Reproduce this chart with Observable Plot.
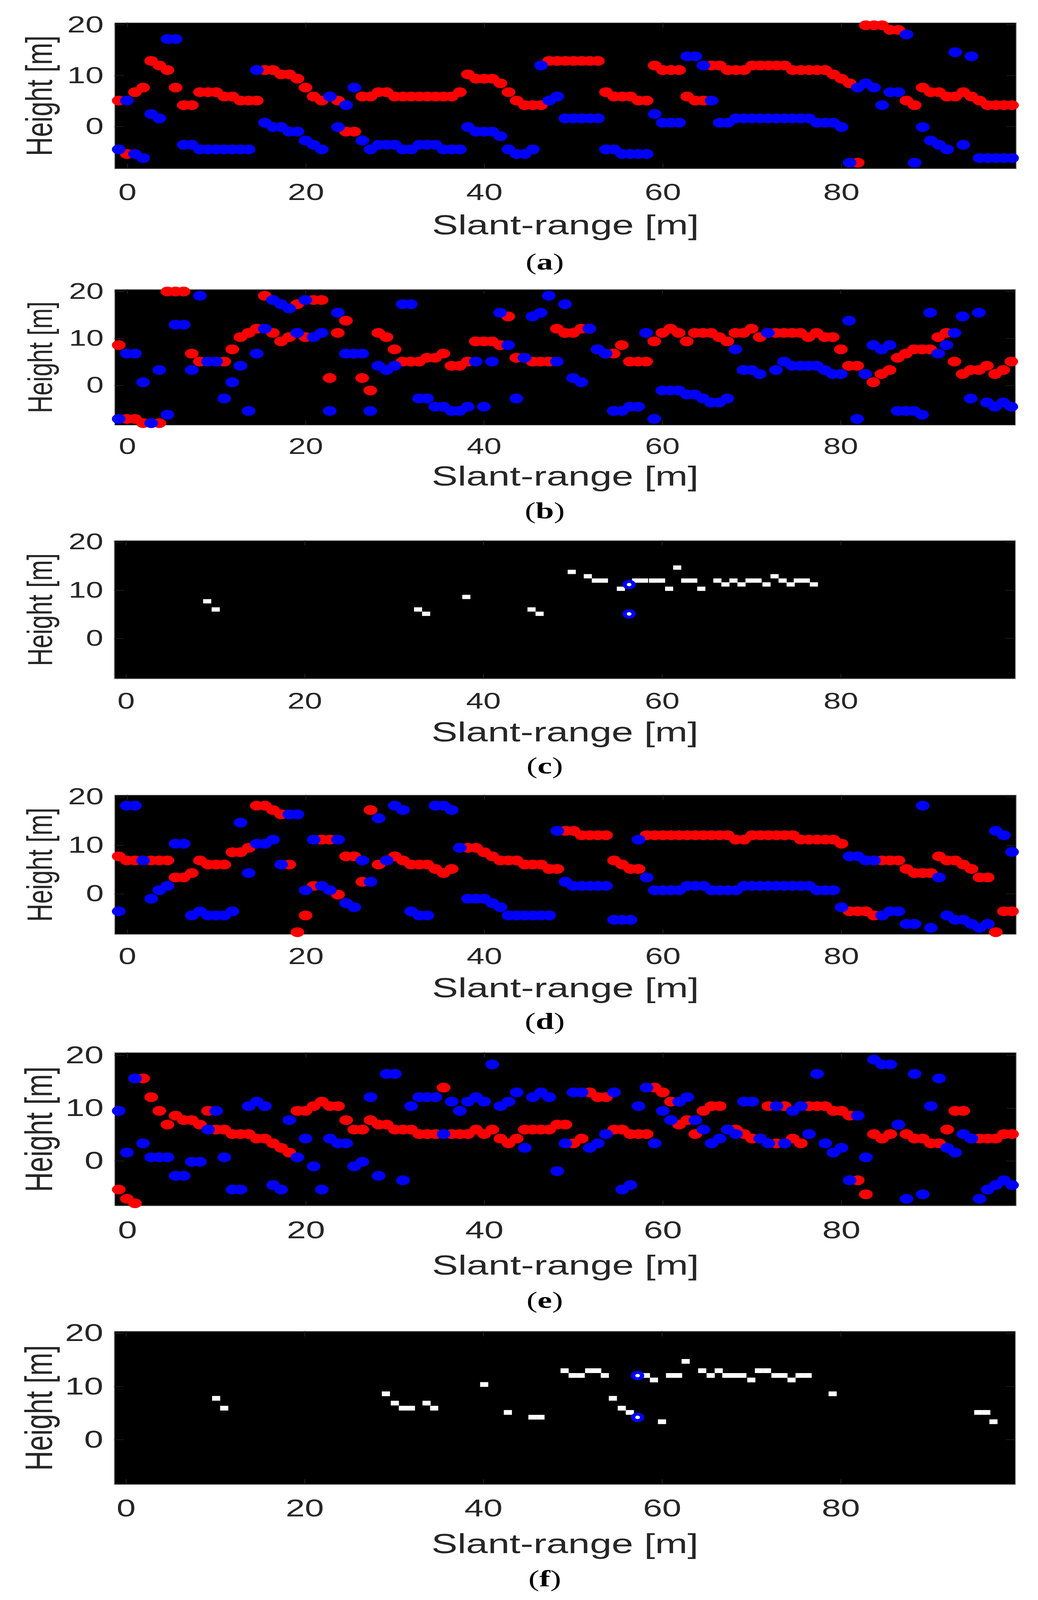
<!DOCTYPE html>
<html><head><meta charset="utf-8">
<style>
html,body{margin:0;padding:0;background:#fff}
body{width:2658px;overflow:hidden}
#page{width:2658px;height:5747px;transform-origin:0 0}
.panel{position:relative;width:2658px}
.panel svg{max-width:none !important;display:block}
.cap{position:absolute;left:1395px;transform:translate(-50%,-50%);font:84px "Liberation Serif",serif;color:#000;line-height:1;z-index:2}
.cap b{font-weight:bold}
</style>
<script src="https://cdn.jsdelivr.net/npm/d3@7"></script>
<script src="https://cdn.jsdelivr.net/npm/@observablehq/plot@0.6"></script>
</head><body><div id="page"></div>
<script>
const xTicks=[0,20,40,60,80];
const yTicks=[0,10,20];
const xLabel="Slant-range [m]";
const yLabel="Height [m]";
const slantRange=[-0.98,-0.07,0.84,1.75,2.66,3.57,4.48,5.39,6.3,7.21,8.12,9.03,9.94,10.85,11.76,12.67,13.58,14.49,15.4,16.31,17.22,18.13,19.04,19.95,20.86,21.77,22.68,23.59,24.5,25.41,26.32,27.23,28.14,29.05,29.96,30.87,31.78,32.69,33.6,34.51,35.42,36.33,37.24,38.15,39.06,39.97,40.88,41.79,42.7,43.61,44.52,45.43,46.34,47.25,48.16,49.07,49.98,50.89,51.8,52.71,53.62,54.53,55.44,56.35,57.26,58.17,59.08,59.99,60.9,61.81,62.72,63.63,64.54,65.45,66.36,67.27,68.18,69.09,70,70.91,71.82,72.73,73.64,74.55,75.46,76.37,77.28,78.19,79.1,80.01,80.92,81.83,82.74,83.65,84.56,85.47,86.38,87.29,88.2,89.11,90.02,90.93,91.84,92.75,93.66,94.57,95.48,96.39,97.3,98.21,99.12];

const redA=[5.1,-5.4,6.75,7.65,12.9,12,11.1,7.65,4.2,4.2,6.75,6.75,6.75,5.9,5.9,5.1,5.1,5.1,11.1,11.1,10.25,10.25,9.4,7.65,5.9,5.1,5.9,5.1,-1,-1,5.9,5.9,6.75,6.75,5.9,5.9,5.9,5.9,5.9,5.9,5.9,5.9,6.75,10.25,9.4,9.4,9.4,8.5,6.75,5.1,4.2,4.2,4.2,12.9,12.9,12.9,12.9,12.9,12.9,12.9,6.75,5.9,5.9,5.9,5.1,5.1,12,11.1,11.1,11.1,5.9,5.1,5.1,12,12,11.1,11.1,11.1,12,12,12,12,12,11.1,11.1,11.1,11.1,11.1,10.25,9.4,8.5,-7.1,19.9,19.9,19.9,19,19,5.1,4.2,7.65,6.75,6.75,5.9,5.9,6.75,5.9,5.1,4.2,4.2,4.2,4.2];
const blueA=[-4.5,5.1,-5.4,-6.2,2.45,1.6,17.2,17.2,-3.6,-3.6,-4.5,-4.5,-4.5,-4.5,-4.5,-4.5,-4.5,11.1,0.75,-0.1,-0.1,-1,-1,-2.75,-3.6,-4.5,5.9,-0.1,4.2,7.65,-2.75,-4.5,-3.6,-3.6,-3.6,-4.5,-4.5,-3.6,-3.6,-3.6,-4.5,-4.5,-4.5,-0.1,-1,-1,-1,-1.9,-4.5,-5.4,-5.4,-4.5,12,5.1,5.9,1.6,1.6,1.6,1.6,1.6,-4.5,-4.5,-5.4,-5.4,-5.4,-5.4,2.45,0.75,0.75,0.75,13.8,13.8,12,5.1,0.75,0.75,1.6,1.6,1.6,1.6,1.6,1.6,1.6,1.6,1.6,1.6,0.75,0.75,0.75,-0.1,-7.1,7.65,8.5,7.65,4.2,6.75,6.75,18.1,-7.1,-0.1,-2.75,-3.6,-4.5,14.6,-3.6,13.8,-6.2,-6.2,-6.2,-6.2,-6.2];

const redB=[8.6,-7.1,-7.1,-8,-8,-8,20,20,20,6.8,5.1,5.1,5.1,5.1,7.7,10.3,11.2,12.1,19.1,11.2,9.4,10.3,17.3,10.3,18.2,18.2,1.6,11.2,13.8,6.8,1.6,-1.05,11.2,10.3,7.7,5.1,5.1,5.1,5.9,5.9,6.8,4.2,4.2,5.1,9.4,9.4,9.4,8.6,14.7,5.9,5.9,5.1,5.1,5.1,12.1,11.2,11.2,12.1,12.1,7.7,6.8,6.8,8.6,5.1,5.1,5.1,9.4,11.2,12.1,11.2,9.4,11.2,11.2,11.2,10.3,9.4,11.2,11.2,12.1,10.3,11.2,11.2,11.2,11.2,11.2,10.3,11.2,10.3,10.3,7.7,4.2,4.2,2.45,0.7,2.45,3.3,5.9,6.8,7.7,7.7,7.7,10.3,11.2,5.1,2.45,3.3,3.3,4.2,2.45,3.3,5.1];
const blueB=[-7.1,6.8,6.8,0.7,-8,3.3,-6.2,12.95,12.95,3.3,19.1,5.1,5.1,-2.75,0.7,4.2,-5.4,6.8,12.1,18.2,17.3,16.4,11.2,18.2,10.3,11.2,-5.4,15.5,6.8,6.8,6.8,-5.4,4.2,3.3,4.2,17.3,17.3,-2.75,-2.75,-4.5,-4.5,-5.4,-5.4,-4.5,5.1,-4.5,5.1,15.5,8.6,-2.75,5.9,14.7,15.5,19.1,5.1,17.3,1.6,0.7,12.1,7.7,6.8,-5.4,-5.4,-4.5,-4.5,11.2,-7.1,-1.05,-1.05,-1.05,-1.9,-1.9,-2.75,-3.6,-3.6,-2.75,7.7,3.3,3.3,2.45,11.2,3.3,5.1,4.2,4.2,4.2,4.2,3.3,2.45,2.45,13.8,-7.1,2.45,8.6,7.7,8.6,-5.4,-5.4,-5.4,-6.2,15.5,6.8,8.6,11.2,14.7,-2.75,15.5,-3.6,-4.5,-3.6,-4.5];

const cellXC=[9.1,10.05,32.7,33.6,38.1,45.4,46.3,49.9,51.7,52.6,53.5,55.4,56.3,56.3,57.1,58,59,59.9,60.8,61.7,62.6,63.5,64.4,66.2,67.1,68,68.9,69.8,70.7,71.7,72.6,73.5,74.4,75.2,76.1,77];
const cellYC=[7.7,6,6,5.1,8.6,6,5.1,13.8,12.9,12,12,10.3,11.2,5.1,12,12,12,12,10.3,14.7,12,12,10.3,12,11.2,12,11.2,12,12,11.2,12.9,12,11.2,12,12,11.2];
const ringXC=[56.3,56.3];
const ringYC=[11.2,5.1];

const redD=[7.75,6.9,6.9,6.9,6.9,6.9,6.9,3.4,3.4,4.3,6.9,6.05,6.05,6.05,8.6,8.6,9.5,18.2,18.2,17.3,16.4,6.05,-7.9,-4.45,1.65,11.2,11.2,-0.15,7.75,7.75,2.5,17.3,6.05,6.9,7.75,6.9,6.05,6.05,6.05,5.15,4.3,5.15,9.5,9.5,9.5,8.6,7.75,6.9,6.9,6.9,6.05,6.05,6.05,5.15,5.15,13,13,12.1,12.1,12.1,12.1,6.9,6.05,5.15,5.15,12.1,12.1,12.1,12.1,12.1,12.1,12.1,12.1,12.1,12.1,12.1,11.2,11.2,12.1,12.1,12.1,12.1,12.1,12.1,11.2,11.2,11.2,11.2,11.2,10.35,-3.6,-3.6,-3.6,-4.45,6.9,6.9,6.9,5.15,4.3,4.3,4.3,7.75,6.9,6.9,6.05,5.15,3.4,3.4,-7.9,-3.6,-3.6];
const blueD=[-3.6,18.2,18.2,6.9,-1,0.75,1.65,10.35,10.35,-4.45,-3.6,-4.45,-4.45,-4.45,-3.6,14.7,4.3,10.35,10.35,11.2,6.05,16.4,16.4,0.75,11.2,1.65,0.75,11.2,-1.9,-2.75,6.9,2.5,15.6,6.9,18.2,17.3,-3.6,-4.45,-4.45,18.2,18.2,17.3,9.5,-1,-1,-1,-1.9,-2.75,-4.45,-4.45,-4.45,-4.45,-4.45,-4.45,13,2.5,1.65,1.65,1.65,1.65,1.65,-5.35,-5.35,-5.35,11.2,3.4,0.75,0.75,0.75,0.75,1.65,1.65,1.65,0.75,0.75,0.75,0.75,1.65,1.65,1.65,1.65,1.65,1.65,1.65,1.65,1.65,0.75,0.75,0.75,-2.75,7.75,7.75,6.9,6.9,-4.45,-3.6,-3.6,-6.2,-6.2,18.2,-7,3.4,-4.45,-5.35,-5.35,-6.2,-7,-6.2,13,12.1,8.65];

const redE=[-5.4,-7.15,-8,15.65,12.1,9.5,6.9,8.6,7.75,7.75,6.9,9.5,5.95,5.95,5.1,5.1,5.1,4.25,4.25,3.35,2.5,1.6,9.5,9.5,10.4,11.25,10.4,10.4,7.75,5.95,5.95,7.75,6.9,6.9,5.95,5.95,5.95,5.1,5.1,5.1,13.9,5.1,5.1,5.1,5.95,5.1,5.95,4.25,3.35,4.25,5.95,5.95,5.95,5.95,6.9,6.9,3.35,4.25,13,12.1,12.1,5.95,5.95,5.1,5.1,5.1,13.9,13,11.25,6.9,7.75,5.1,9.5,10.4,10.4,5.95,5.95,5.1,4.25,4.25,10.4,3.35,10.4,4.25,3.35,10.4,10.4,10.4,9.5,9.5,8.6,-3.65,-6.3,5.1,4.25,5.1,6.9,5.1,4.25,4.25,3.35,3.35,5.95,9.5,9.5,4.25,4.25,4.25,4.25,5.1,5.1];
const blueE=[9.5,1.6,15.65,3.35,0.7,0.7,0.7,-2.8,-2.8,-0.15,-0.15,5.95,9.5,0.7,-5.4,-5.4,10.4,11.25,10.4,-4.55,-5.4,7.75,0.7,4.25,-1,-5.4,4.25,3.35,3.35,-1,-0.15,12.1,-2.8,16.5,16.5,-3.65,10.4,12.1,12.1,12.1,5.1,11.25,9.5,11.25,12.1,11.25,18.3,10.4,11.25,13,2.5,12.1,13,12.1,-1.9,3.35,13,13,2.5,3.35,5.1,13,-5.4,-4.55,10.4,13.9,3.35,9.5,7.75,11.25,12.1,7.75,5.95,3.35,4.25,5.95,5.1,11.25,11.25,4.25,3.35,10.4,3.35,9.5,10.4,5.1,16.5,3.35,1.6,2.5,-3.65,8.6,0.7,19.2,18.3,18.3,6.9,-7.15,16.5,-6.3,10.4,15.65,2.5,1.6,5.1,4.25,-7.15,-5.4,-4.55,-3.65,-4.55];

const cellXF=[10.1,11,29.1,30.1,31,31.9,33.65,34.5,40.1,42.75,45.5,46.4,49.1,50,50.9,51.85,52.75,53.6,54.5,55.5,56.4,57.25,57.25,58.2,59.1,60,60.9,61.8,62.65,64.5,65.45,66.35,67.2,68.1,69,70,70.85,71.75,72.7,73.6,74.5,75.4,76.3,79.1,95.4,96.3,97.1];
const cellYF=[7.75,5.9,8.6,6.85,5.9,5.9,6.85,5.9,10.35,5.1,4.2,4.2,12.95,12.05,12.05,12.95,12.95,12.05,7.75,5.9,5.1,12.05,4.2,12.05,11.2,3.35,12.05,12.05,14.7,12.95,12.05,12.95,12.05,12.05,12.05,11.2,12.95,12.95,12.05,12.05,11.2,12.05,12.05,8.6,5.1,5.1,3.35];
const ringXF=[57.25,57.25];
const ringYF=[12.05,4.2];

const black="#000000", ink="#262626", sans="Liberation Sans";
function points(ys){return slantRange.map((x,i)=>({x,y:ys[i]}));}
function pairs(xs,ys){return xs.map((x,i)=>({x,y:ys[i]}));}

const xd1=[-1.44,99.6], xd2=[-1.33,99.55];
const panels=[
 {top:81,bottom:606,left:293,right:2602,xd:xd1,yd:[-8.32,20.41],xBase:718,lBase:842,tickFs:84,labelFs:100,ylFs:95,red:redA,blue:blueA,cap:"a",capY:940},
 {top:1039,bottom:1527,left:293,right:2600,xd:xd1,yd:[-8.45,20.45],xBase:1630,lBase:1743,tickFs:80,labelFs:100,ylFs:88,red:redB,blue:blueB,cap:"b",capY:1834},
 {top:1941,bottom:2438,left:292,right:2600,xd:xd2,yd:[-8.4,20.35],xBase:2544,lBase:2663,tickFs:80,labelFs:100,ylFs:89,cells:pairs(cellXC,cellYC),rings:pairs(ringXC,ringYC),cap:"c",capY:2750},
 {top:2855,bottom:3356,left:293,right:2602,xd:xd1,yd:[-8.37,20.4],xBase:3462,lBase:3581,tickFs:82,labelFs:100,ylFs:90,red:redD,blue:blueD,cap:"d",capY:3668},
 {top:3780,bottom:4331,left:293,right:2602,xd:xd1,yd:[-8.5,20.55],xBase:4447,lBase:4578,tickFs:88,labelFs:100,ylFs:99,red:redE,blue:blueE,cap:"e",capY:4670},
 {top:4781,bottom:5332,left:292,right:2600,xd:xd2,yd:[-8.45,20.4],xBase:5446,lBase:5578,tickFs:88,labelFs:100,ylFs:99,cells:pairs(cellXF,cellYF),rings:pairs(ringXF,ringYF),cap:"f",capY:5670}
];
const boundaries=[0,980,1890,2800,3720,4720,5747];
const page=document.getElementById("page");
panels.forEach((o,idx)=>{
  const sTop=boundaries[idx], sBot=boundaries[idx+1];
  const tm=o.top-sTop, bm=sBot-o.bottom, H=sBot-sTop;
  const tickFs=o.tickFs, labelFs=o.labelFs, ylFs=o.ylFs;
  const [xa,xb]=o.xd,[ya,yb]=o.yd;
  const marks=[
    Plot.frame({fill:black,stroke:"#a8a8a8",strokeWidth:2}),
    Plot.ruleX(xTicks,{y1:ya,y2:ya+1,stroke:ink,strokeWidth:2}),
    Plot.ruleX(xTicks,{y1:yb,y2:yb-1,stroke:ink,strokeWidth:2}),
    Plot.ruleY(yTicks,{x1:xa,x2:xa+1.1,stroke:ink,strokeWidth:2}),
    Plot.ruleY(yTicks,{x1:xb,x2:xb-1.1,stroke:ink,strokeWidth:2}),
    Plot.axisX({anchor:"bottom",ticks:xTicks,tickSize:0,tickPadding:o.xBase-o.bottom-0.71*tickFs,fontSize:tickFs,fontFamily:sans,label:null,color:ink,tickFormat:d=>String(d)}),
    Plot.axisY({anchor:"left",ticks:yTicks,tickSize:0,tickPadding:28,fontSize:tickFs,fontFamily:sans,label:null,color:ink,tickFormat:d=>String(d)}),
    Plot.text([xLabel],{frameAnchor:"bottom",text:d=>d,fontSize:labelFs,fontFamily:sans,fill:ink,textAnchor:"middle",lineAnchor:"bottom",dy:o.lBase-o.bottom}),
    Plot.text([yLabel],{frameAnchor:"left",text:d=>d,fontSize:ylFs,fontFamily:sans,fill:ink,textAnchor:"middle",rotate:-90,lineAnchor:"bottom",dx:-(o.left-132)})
  ];
  if(o.red) marks.push(Plot.dot(points(o.red),{x:"x",y:"y",r:17.5,fill:"#ff0000",stroke:"none"}));
  if(o.blue) marks.push(Plot.dot(points(o.blue),{x:"x",y:"y",r:17.5,fill:"#0000ff",stroke:"none"}));
  if(o.cells){
    marks.push(Plot.rect(o.cells,{x1:d=>d.x-0.455,x2:d=>d.x+0.455,y1:d=>d.y-0.445,y2:d=>d.y+0.445,fill:"#ffffff"}));
    marks.push(Plot.dot(o.rings,{x:"x",y:"y",r:11.5,fill:"none",stroke:"#0000ff",strokeWidth:11}));
  }
  const svg=Plot.plot({
    width:2658,height:H,
    marginTop:tm,marginBottom:bm,marginLeft:o.left,marginRight:2658-o.right,
    x:{domain:o.xd},y:{domain:o.yd},
    style:{background:"transparent",overflow:"visible",maxWidth:"none"},
    marks
  });
  const d=document.createElement("div");
  d.className="panel";d.style.height=H+"px";
  d.appendChild(svg);
  const c=document.createElement("div");c.className="cap";c.style.top=(o.capY-sTop)+"px";
  c.innerHTML="("+"<b>"+o.cap+"</b>"+")";
  d.appendChild(c);
  page.appendChild(d);
});
// The layout is 5747px tall. If the window is shorter, fit it vertically so no panel is cut off.
const fit=Math.min(1,window.innerHeight/5747);
if(fit<1){page.style.transform="scale(1,"+fit+")";document.body.style.height=window.innerHeight+"px";}
</script></body></html>
